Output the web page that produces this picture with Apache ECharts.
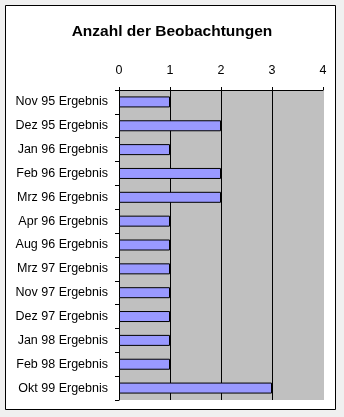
<!DOCTYPE html>
<html>
<head>
<meta charset="utf-8">
<script src="https://cdn.jsdelivr.net/npm/echarts@6/dist/echarts.min.js"></script>
<style>
  html, body { margin: 0; padding: 0; background: #f0f0f0; }
  #chart { width: 344px; height: 417px; }
</style>
</head>
<body>
<div id="chart"></div>
<script>
// Observation counts per reporting period
const categories = [
  'Nov 95 Ergebnis', 'Dez 95 Ergebnis', 'Jan 96 Ergebnis', 'Feb 96 Ergebnis',
  'Mrz 96 Ergebnis', 'Apr 96 Ergebnis', 'Aug 96 Ergebnis', 'Mrz 97 Ergebnis',
  'Nov 97 Ergebnis', 'Dez 97 Ergebnis', 'Jan 98 Ergebnis', 'Feb 98 Ergebnis',
  'Okt 99 Ergebnis'
];
const counts = [1, 2, 1, 2, 2, 1, 1, 1, 1, 1, 1, 1, 3];
const axisMin = 0;
const axisMax = 4;
const axisStep = 1;

const font = 'Arial, "Liberation Sans", sans-serif';
const chart = echarts.init(document.getElementById('chart'), null, { renderer: 'canvas' });

chart.setOption({
  backgroundColor: 'transparent',
  animation: false,
  graphic: [{
    type: 'rect',
    shape: { x: 5.5, y: 5.5, width: 330, height: 404 },
    style: { fill: '#ffffff', stroke: '#000000', lineWidth: 1 },
    z: -10
  }],
  title: {
    text: 'Anzahl der Beobachtungen',
    left: 'center',
    top: 19,
    textStyle: { fontFamily: font, fontSize: 15.5, fontWeight: 'bold', color: '#000' }
  },
  grid: {
    left: 119, top: 90, width: 204, height: 310,
    show: true, backgroundColor: '#c0c0c0', borderWidth: 0,
    containLabel: false
  },
  xAxis: {
    type: 'value',
    position: 'top',
    min: axisMin, max: axisMax, interval: axisStep,
    axisLine: { show: true, lineStyle: { color: '#000', width: 1 } },
    axisTick: { show: true, length: 3, lineStyle: { color: '#000' } },
    axisLabel: { fontFamily: font, fontSize: 12.5, color: '#000', margin: 13 },
    splitLine: {
      show: true,
      lineStyle: { color: ['#000', '#000', '#000', '#000', '#c0c0c0'], width: 1 }
    }
  },
  yAxis: {
    type: 'category',
    data: categories,
    inverse: true,
    axisLine: { show: true, lineStyle: { color: '#000', width: 1 } },
    axisTick: { show: true, length: 4, lineStyle: { color: '#000' } },
    axisLabel: { fontFamily: font, fontSize: 12.5, color: '#000', margin: 11 },
    splitLine: { show: false }
  },
  series: [{
    type: 'bar',
    data: counts,
    barWidth: 11,
    itemStyle: { color: '#9999ff', borderColor: '#000', borderWidth: 1 },
    silent: true
  }]
});
</script>
</body>
</html>
